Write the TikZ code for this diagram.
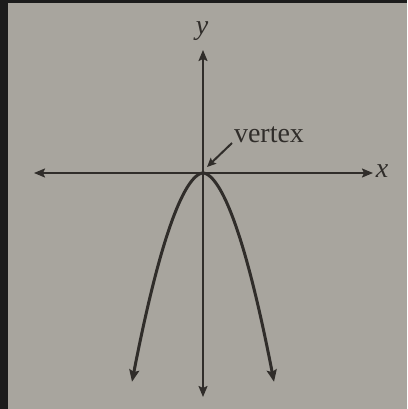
\documentclass[tikz,border=0pt]{standalone}
\usepackage{fontspec}
\setmainfont{Liberation Serif}
\usetikzlibrary{arrows.meta}
\definecolor{paper}{RGB}{168,165,158}
\definecolor{edge}{RGB}{28,28,28}
\definecolor{ink}{RGB}{48,45,42}
\tikzset{
  axisline/.style={draw=ink, line width=1.8pt, -{Stealth[length=11pt,width=9pt,inset=2pt]}},
  curveline/.style={draw=ink, line width=3pt, -{Stealth[length=12pt,width=10pt,inset=2pt]}},
  pointer/.style={draw=ink, line width=2pt, -{Stealth[length=9pt,width=8pt,inset=1.5pt]}},
  lab/.style={text=ink, font=\fontsize{28}{30}\selectfont, inner sep=0pt}
}
\begin{document}
\begin{tikzpicture}[x=1pt,y=-1pt]
\useasboundingbox (0,0) rectangle (407,409);
\fill[paper] (0,0) rectangle (407,409);
\fill[edge] (0,0) rectangle (8,409);
\fill[edge] (0,0) rectangle (407,3);
% axes
\coordinate (O) at (203,173);
\coordinate (ytop) at (203,50);
\coordinate (ybot) at (203,397);
\coordinate (xleft) at (34,173);
\coordinate (xright) at (373,173);
\draw[axisline] (O) -- (ytop);
\draw[axisline] (O) -- (ybot);
\draw[axisline] (O) -- (xleft);
\draw[axisline] (O) -- (xright);
\node[lab] (ylab) at (202,31) {\itshape y};
\node[lab] (xlab) at (382,171) {\itshape x};
% parabola
\draw[curveline] plot[domain=0.05:71, samples=60] ({203-\x},{173+0.1058*(\x)^1.78});
\draw[curveline] plot[domain=0.05:71, samples=60] ({203+\x},{173+0.1058*(\x)^1.78});
% vertex label
\node[lab, anchor=base] (vlab) at (269,142) {vertex};
\coordinate (ptail) at (232,143);
\coordinate (ptip) at (207,167);
\draw[pointer] (ptail) -- (ptip);
\end{tikzpicture}
\end{document}
